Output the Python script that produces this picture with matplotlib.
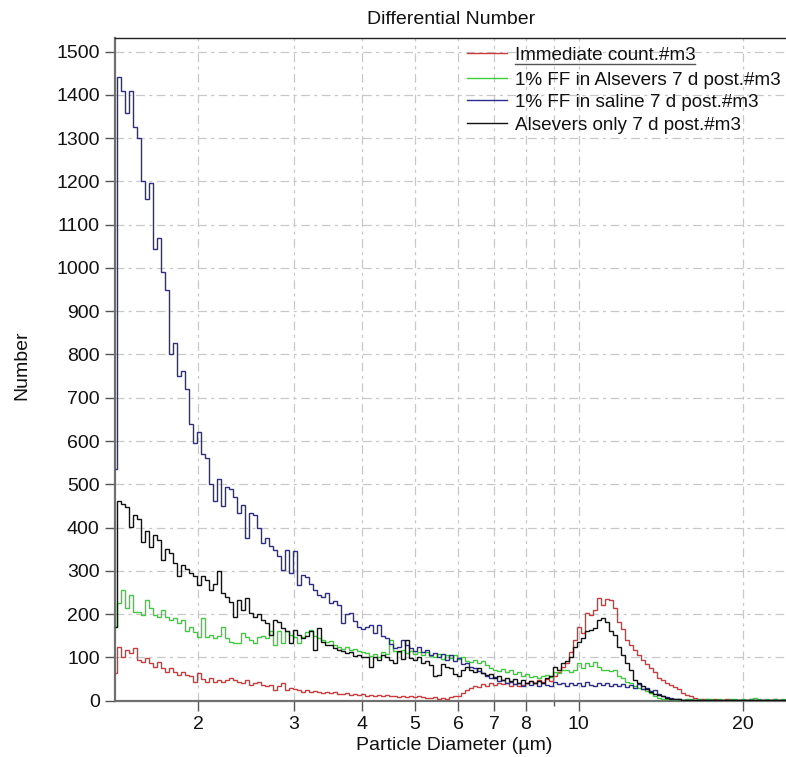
import numpy as np
import matplotlib
matplotlib.use("Agg")
import matplotlib.pyplot as plt
from matplotlib.lines import Line2D
from matplotlib.ticker import FixedLocator, NullFormatter

plt.rcParams['font.family'] = ['Liberation Sans', 'DejaVu Sans']

title = "Differential Number"
xlabel = "Particle Diameter (µm)"
ylabel = "Number"
labels = ["Immediate count.#m3", "1% FF in Alsevers 7 d post.#m3",
          "1% FF in saline 7 d post.#m3", "Alsevers only 7 d post.#m3"]
colors = ["#cc3b3b", "#3ccc3c", "#2c2c8c", "#111111"]

x_major = [2, 3, 4, 5, 6, 7, 8, 10, 20]
x_minor = [9]
y_ticks = list(range(0, 1600, 100))

# first value = narrow leading bin, then bins of equal log width
immediate = [64,
    125, 100, 117, 110, 121, 94, 90, 98, 87, 79,
    90, 75, 67, 75, 67, 59, 67, 59, 56, 44,
    63, 50, 44, 52, 44, 48, 44, 48, 52, 48,
    44, 40, 48, 37, 40, 44, 36, 33, 37, 25,
    33, 40, 25, 29, 27, 25, 21, 25, 21, 23,
    20, 18, 21, 17, 19, 16, 15, 18, 14, 16,
    13, 15, 12, 14, 11, 13, 10, 13, 11, 12,
    9, 11, 9, 12, 8, 10, 9, 7, 6, 8,
    5, 7, 5, 8, 10, 12, 18, 24, 30, 33,
    32, 38, 35, 40, 37, 42, 38, 40, 34, 38,
    33, 36, 40, 45, 42, 48, 44, 50, 46, 58,
    66, 78, 88, 112, 140, 171, 156, 202, 198, 210,
    238, 220, 236, 232, 215, 182, 165, 140, 128, 116,
    106, 95, 84, 76, 66, 52, 48, 42, 36, 31,
    26, 18, 13, 10, 7, 5, 4, 3, 2, 3,
    2, 2, 3, 1, 2, 2, 1, 2, 3, 2,
    2, 1, 2, 2, 3, 2, 1, 2]

ff_alsevers = [171,
    225, 256, 215, 244, 206, 204, 198, 233, 215, 198,
    194, 210, 194, 187, 190, 180, 187, 160, 171, 158,
    148, 190, 148, 152, 144, 150, 171, 144, 136, 133,
    133, 156, 148, 140, 133, 148, 150, 146, 160, 129,
    160, 133, 160, 152, 148, 133, 148, 158, 164, 150,
    145, 140, 135, 138, 128, 125, 120, 124, 117, 120,
    115, 113, 110, 104, 108, 102, 112, 108, 140, 115,
    112, 118, 110, 115, 108, 112, 106, 112, 104, 100,
    108, 96, 105, 98, 106, 96, 100, 92, 90, 94,
    86, 92, 82, 75, 72, 68, 73, 66, 70, 62,
    66, 58, 62, 54, 58, 52, 56, 60, 55, 66,
    63, 70, 71, 66, 72, 87, 75, 87, 80, 90,
    79, 71, 72, 68, 70, 58, 52, 44, 40, 34,
    30, 28, 22, 18, 10, 6, 4, 3, 3, 2,
    3, 2, 4, 3, 2, 3, 2, 4, 3, 2,
    3, 2, 2, 3, 4, 2, 3, 2, 5, 6,
    3, 2, 3, 2, 4, 2, 3, 2]

ff_saline = [535,
    1442, 1409, 1357, 1409, 1325, 1300, 1202, 1160, 1197, 1043,
    1070, 990, 950, 800, 826, 750, 762, 720, 639, 595,
    622, 570, 560, 500, 462, 513, 450, 494, 490, 470,
    434, 452, 376, 434, 430, 398, 364, 376, 358, 349,
    335, 302, 348, 295, 345, 267, 290, 285, 270, 256,
    244, 240, 248, 226, 230, 220, 179, 200, 202, 185,
    171, 166, 170, 175, 156, 175, 150, 145, 130, 122,
    125, 140, 128, 122, 115, 125, 112, 118, 105, 110,
    100, 108, 95, 105, 92, 98, 85, 88, 78, 75,
    68, 65, 58, 52, 55, 46, 48, 42, 44, 38,
    40, 35, 42, 36, 40, 34, 42, 37, 35, 43,
    38, 40, 33, 42, 36, 40, 34, 44, 37, 35,
    42, 36, 40, 33, 38, 35, 38, 32, 36, 30,
    38, 28, 30, 22, 25, 15, 12, 8, 6, 4,
    3, 2, 2, 1, 2, 1, 1, 2, 1, 1,
    2, 1, 1, 2, 1, 1, 1, 2, 1, 1,
    1, 2, 1, 1, 1, 2, 1, 1]

alsevers_only = [170,
    462, 455, 448, 402, 429, 421, 367, 391, 356, 383,
    371, 325, 350, 341, 318, 287, 314, 305, 295, 287,
    267, 289, 280, 256, 270, 300, 248, 240, 229, 194,
    233, 210, 237, 202, 194, 200, 187, 179, 152, 187,
    183, 167, 160, 133, 164, 152, 144, 150, 160, 117,
    167, 135, 129, 128, 121, 118, 115, 110, 112, 104,
    106, 102, 100, 79, 100, 94, 106, 102, 95, 86,
    114, 96, 140, 98, 94, 100, 88, 92, 82, 58,
    60, 85, 78, 75, 62, 58, 70, 78, 72, 66,
    75, 64, 60, 62, 52, 56, 48, 52, 45, 50,
    42, 48, 40, 45, 42, 46, 42, 52, 56, 78,
    70, 88, 92, 100, 125, 136, 145, 160, 163, 167,
    186, 191, 183, 160, 152, 125, 106, 87, 71, 48,
    40, 33, 26, 21, 16, 13, 10, 7, 5, 4,
    3, 2, 2, 1, 1, 2, 1, 1, 1, 1,
    1, 1, 2, 1, 1, 1, 1, 1, 2, 1,
    1, 1, 1, 1, 2, 1, 1, 1]

series = [immediate, ff_alsevers, ff_saline, alsevers_only]

X_MIN, X_MAX = 1.408, 24.0
FIRST_EDGE = 1.4205
RATIO = 10 ** (4 / 545)


def make_edges(n):
    return np.concatenate([[X_MIN], FIRST_EDGE * RATIO ** np.arange(n)])


W, H = 786, 757
FS = 14
LEG_FS = 13.6
fig = plt.figure(figsize=(W / 100, H / 100), dpi=100)
ax = fig.add_axes([115 / W, 1 - 700.7 / H, (W - 115) / W, (700.7 - 37.7) / H])

ax.set_xscale('log')
ax.set_xlim(X_MIN, X_MAX)
ax.set_ylim(0, 1532)

grid_kw = dict(color='#c8c8c8', lw=0.9, dashes=(7, 3.5, 2.5, 3.5))
for yv in y_ticks:
    ax.axhline(yv, zorder=0, **grid_kw)
for xv in x_major + x_minor:
    ax.axvline(xv, zorder=0, **grid_kw)

for vals, c in zip(series, colors):
    v = np.asarray(vals, dtype=float)
    ax.stairs(v, make_edges(len(v)), baseline=None, color=c, lw=1.0, zorder=3)

ax.xaxis.set_major_locator(FixedLocator(x_major))
ax.xaxis.set_minor_locator(FixedLocator(x_minor))
ax.set_xticklabels([str(v) for v in x_major])
ax.xaxis.set_minor_formatter(NullFormatter())
ax.yaxis.set_major_locator(FixedLocator(y_ticks))
ax.set_yticklabels([str(v) for v in y_ticks])

ax.tick_params(axis='both', which='major', direction='out', length=7.5, width=1.0,
               color='#555555', labelsize=FS, labelcolor='#111111', pad=3.5)
ax.tick_params(axis='x', which='minor', direction='out', length=3.5, width=1.0,
               color='#555555')
ax.tick_params(top=False, right=False)

for s in ['left', 'bottom']:
    ax.spines[s].set_color('#707070')
    ax.spines[s].set_linewidth(1.6)
ax.spines['top'].set_color('#222222')
ax.spines['top'].set_linewidth(1.0)
ax.spines['right'].set_visible(False)

fig.text(451 / W, 1 - 20 / H, title, ha='center', va='center', fontsize=FS, color='#111111')
fig.text(454 / W, 1 - 746 / H, xlabel, ha='center', va='center', fontsize=FS, color='#111111')
fig.text(22 / W, 1 - 365 / H, ylabel, ha='center', va='center', rotation=90,
         fontsize=FS, color='#111111')

# legend (drawn manually to match placement)
row_y = [53.3, 77.5, 100.0, 122.8]
cap_half = 7.2
for lab, c, ry in zip(labels, colors, row_y):
    fig.add_artist(Line2D([466.5 / W, 507 / W], [1 - ry / H, 1 - ry / H],
                          color=c, lw=1.0, transform=fig.transFigure))
    fig.text(515 / W, 1 - (ry + cap_half) / H, lab, ha='left', va='baseline',
             fontsize=LEG_FS, color='#111111')
fig.add_artist(Line2D([515 / W, 695 / W], [1 - 64.3 / H, 1 - 64.3 / H],
                      color='#555555', lw=1.0, transform=fig.transFigure))

fig.savefig('out.png', dpi=100)
